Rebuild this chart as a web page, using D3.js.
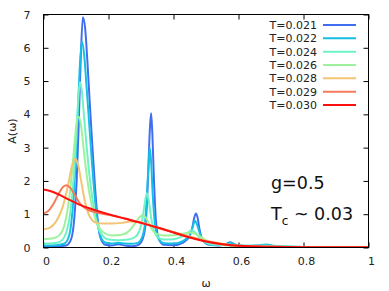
<!DOCTYPE html>
<html>
<head>
<meta charset="utf-8">
<script src="https://cdn.jsdelivr.net/npm/d3@7"></script>
<style>
  html, body { margin: 0; padding: 0; background: #fff; }
  svg { display: block; }
  text { font-family: "DejaVu Sans", Verdana, sans-serif; }
</style>
</head>
<body>
<svg id="chart" width="389" height="291"></svg>
<script>
// ---- Data ----
const xTicks = [0, 0.2, 0.4, 0.6, 0.8, 1];
const xTickLabels = ["0", "0.2", "0.4", "0.6", "0.8", "1"];
const yTicks = [0, 1, 2, 3, 4, 5, 6, 7];
const yTickLabels = ["0", "1", "2", "3", "4", "5", "6", "7"];
const seriesNames = ["T=0.021", "T=0.022", "T=0.024", "T=0.026", "T=0.028", "T=0.029", "T=0.030"];
const seriesColors = ["#3f6ff0", "#14bfe2", "#6ef2c6", "#9ef29c", "#f2c474", "#f77a58", "#ff1010"];

const w021 = [0, 0.04, 0.07, 0.085, 0.095, 0.102, 0.108, 0.114, 0.121, 0.128, 0.135, 0.142, 0.15, 0.158, 0.166, 0.175, 0.19, 0.21, 0.23, 0.25, 0.27, 0.29, 0.305, 0.315, 0.322, 0.327, 0.331, 0.335, 0.34, 0.346, 0.355, 0.37, 0.4, 0.43, 0.45, 0.458, 0.464, 0.469, 0.474, 0.48, 0.49, 0.51, 0.54, 0.56, 0.575, 0.59, 0.62, 0.66, 0.685, 0.71, 0.75, 0.85, 1.0];
const a021 = [0.02, 0.03, 0.06, 0.25, 0.9, 2.0, 3.6, 5.5, 6.92, 6.6, 5.6, 4.4, 3.1, 1.9, 0.9, 0.3, 0.08, 0.06, 0.1, 0.06, 0.04, 0.07, 0.25, 0.8, 2.2, 3.5, 4.03, 3.4, 2.0, 0.8, 0.25, 0.08, 0.07, 0.15, 0.35, 0.6, 0.9, 1.02, 0.9, 0.55, 0.22, 0.08, 0.06, 0.1, 0.16, 0.08, 0.04, 0.05, 0.07, 0.04, 0.02, 0.01, 0.01];

const w022 = [0, 0.04, 0.065, 0.08, 0.09, 0.098, 0.105, 0.111, 0.118, 0.125, 0.132, 0.14, 0.148, 0.156, 0.165, 0.175, 0.19, 0.21, 0.23, 0.25, 0.27, 0.29, 0.305, 0.314, 0.32, 0.324, 0.327, 0.331, 0.336, 0.343, 0.352, 0.37, 0.4, 0.43, 0.45, 0.458, 0.466, 0.472, 0.48, 0.49, 0.51, 0.54, 0.56, 0.575, 0.59, 0.62, 0.66, 0.685, 0.71, 0.75, 0.85, 1.0];
const a022 = [0.06, 0.07, 0.12, 0.4, 1.2, 2.4, 3.9, 5.3, 6.19, 5.8, 4.9, 3.8, 2.7, 1.7, 0.85, 0.35, 0.15, 0.12, 0.14, 0.12, 0.11, 0.14, 0.35, 0.9, 1.9, 2.6, 3.0, 2.6, 1.6, 0.7, 0.3, 0.13, 0.12, 0.2, 0.38, 0.58, 0.8, 0.7, 0.45, 0.22, 0.1, 0.07, 0.09, 0.14, 0.08, 0.05, 0.06, 0.09, 0.05, 0.02, 0.01, 0.01];

const w024 = [0, 0.03, 0.05, 0.07, 0.083, 0.093, 0.1, 0.106, 0.112, 0.118, 0.125, 0.133, 0.141, 0.15, 0.16, 0.17, 0.185, 0.2, 0.23, 0.26, 0.28, 0.295, 0.305, 0.312, 0.318, 0.324, 0.332, 0.342, 0.355, 0.37, 0.39, 0.41, 0.43, 0.445, 0.457, 0.467, 0.48, 0.5, 0.53, 0.57, 0.62, 0.68, 0.75, 0.85, 1.0];
const a024 = [0.12, 0.13, 0.17, 0.45, 1.1, 2.1, 3.2, 4.3, 4.97, 4.7, 3.9, 3.0, 2.2, 1.5, 0.9, 0.55, 0.32, 0.24, 0.22, 0.24, 0.3, 0.5, 0.9, 1.35, 1.63, 1.4, 0.85, 0.45, 0.28, 0.24, 0.24, 0.27, 0.35, 0.45, 0.52, 0.45, 0.3, 0.15, 0.08, 0.07, 0.05, 0.05, 0.03, 0.01, 0.01];

const w026 = [0, 0.03, 0.05, 0.065, 0.078, 0.088, 0.096, 0.102, 0.108, 0.115, 0.122, 0.13, 0.14, 0.15, 0.16, 0.175, 0.19, 0.21, 0.24, 0.26, 0.28, 0.295, 0.305, 0.315, 0.33, 0.35, 0.37, 0.4, 0.43, 0.45, 0.47, 0.5, 0.55, 0.6, 0.7, 0.8, 1.0];
const a026 = [0.25, 0.28, 0.38, 0.7, 1.4, 2.3, 3.2, 3.75, 3.93, 3.7, 3.1, 2.4, 1.7, 1.2, 0.85, 0.55, 0.42, 0.36, 0.38, 0.47, 0.7, 0.9, 0.97, 0.9, 0.6, 0.4, 0.36, 0.37, 0.42, 0.45, 0.4, 0.22, 0.08, 0.04, 0.02, 0.01, 0.01];

const w028 = [0, 0.02, 0.04, 0.06, 0.075, 0.088, 0.097, 0.106, 0.115, 0.125, 0.135, 0.15, 0.165, 0.185, 0.21, 0.24, 0.27, 0.3, 0.33, 0.36, 0.4, 0.45, 0.5, 0.55, 0.6, 0.7, 0.8, 1.0];
const a028 = [0.55, 0.6, 0.8, 1.25, 1.85, 2.45, 2.67, 2.5, 2.05, 1.5, 1.1, 0.82, 0.74, 0.72, 0.72, 0.74, 0.78, 0.76, 0.66, 0.57, 0.46, 0.33, 0.2, 0.11, 0.05, 0.02, 0.01, 0.01];

const w029 = [0, 0.015, 0.03, 0.045, 0.058, 0.07, 0.082, 0.095, 0.11, 0.125, 0.14, 0.16, 0.2, 0.25, 0.3, 0.35, 0.4, 0.45, 0.5, 0.55, 0.6, 0.7, 0.8, 1.0];
const a029 = [1.02, 1.1, 1.3, 1.58, 1.8, 1.87, 1.8, 1.6, 1.35, 1.2, 1.12, 1.06, 0.98, 0.87, 0.74, 0.6, 0.46, 0.31, 0.19, 0.1, 0.05, 0.02, 0.01, 0.01];

const w030 = [0, 0.02, 0.05, 0.08, 0.11, 0.15, 0.2, 0.25, 0.3, 0.35, 0.4, 0.45, 0.5, 0.55, 0.6, 0.7, 0.8, 1.0];
const a030 = [1.74, 1.7, 1.58, 1.43, 1.29, 1.15, 1.0, 0.87, 0.74, 0.6, 0.45, 0.3, 0.18, 0.1, 0.05, 0.02, 0.01, 0.01];

const omegas = [w021, w022, w024, w026, w028, w029, w030];
const values = [a021, a022, a024, a026, a028, a029, a030];

// ---- Layout ----
const svg = d3.select("#chart");
const L = 43.5, R = 368.5, T = 14.5, B = 247.5;
const x = d3.scaleLinear().domain([0, 1]).range([L, R]);
const y = d3.scaleLinear().domain([0, 7]).range([B, T]);

svg.append("clipPath").attr("id", "clip")
  .append("rect").attr("x", L).attr("y", T).attr("width", R - L).attr("height", B - T);

// ticks (inward on all four sides)
const tickLen = 5;
const axB = svg.append("g").attr("transform", `translate(0,${B})`)
  .call(d3.axisBottom(x).tickValues(xTicks).tickSize(-tickLen).tickPadding(10)
    .tickFormat((d, i) => xTickLabels[i]));
const axT = svg.append("g").attr("transform", `translate(0,${T})`)
  .call(d3.axisTop(x).tickValues(xTicks).tickSize(-tickLen).tickFormat(""));
const axL = svg.append("g").attr("transform", `translate(${L},0)`)
  .call(d3.axisLeft(y).tickValues(yTicks).tickSize(-tickLen).tickPadding(13)
    .tickFormat((d, i) => yTickLabels[i]));
const axR = svg.append("g").attr("transform", `translate(${R},0)`)
  .call(d3.axisRight(y).tickValues(yTicks).tickSize(-tickLen).tickFormat(""));
[axB, axT, axL, axR].forEach(g => {
  g.select(".domain").remove();
  g.selectAll(".tick line").attr("stroke", "#000").attr("stroke-width", 1);
  g.selectAll("text").attr("font-family", "DejaVu Sans").attr("font-size", 11).attr("fill", "#222");
});
axB.selectAll("text").attr("dx", 2.5);

// curves
const line = d3.line()
  .x(d => x(d[0])).y(d => y(d[1]))
  .curve(d3.curveMonotoneX);
const gLines = svg.append("g").attr("clip-path", "url(#clip)");
seriesNames.forEach((name, i) => {
  const pts = omegas[i].map((w, j) => [w, values[i][j]]);
  gLines.append("path")
    .attr("d", line(pts))
    .attr("fill", "none")
    .attr("stroke", seriesColors[i])
    .attr("stroke-width", 2)
    .attr("stroke-linejoin", "round");
});

// frame
svg.append("rect").attr("x", L).attr("y", T).attr("width", R - L).attr("height", B - T)
  .attr("fill", "none").attr("stroke", "#000").attr("stroke-width", 1);

// axis titles
svg.append("text").attr("x", (L + R) / 2).attr("y", 287).attr("text-anchor", "middle")
  .attr("font-size", 11).attr("fill", "#222").text("ω");
svg.append("text").attr("transform", `translate(16,${(T + B) / 2}) rotate(-90)`)
  .attr("text-anchor", "middle").attr("font-size", 11).attr("fill", "#222").text("A(ω)");

// legend
const legend = svg.append("g");
seriesNames.forEach((name, i) => {
  const ly = 25 + i * 13.33;
  legend.append("text").attr("x", 317).attr("y", ly).attr("dy", "0.36em")
    .attr("text-anchor", "end").attr("font-size", 11).attr("fill", "#222").text(name);
  legend.append("line").attr("x1", 323).attr("x2", 356).attr("y1", ly).attr("y2", ly)
    .attr("stroke", seriesColors[i]).attr("stroke-width", 2);
});

// annotations
svg.append("text").attr("x", 271).attr("y", 189).attr("font-size", 17.5).attr("fill", "#111").text("g=0.5");
const tc = svg.append("text").attr("x", 271).attr("y", 219.5).attr("font-size", 17.5).attr("fill", "#111");
tc.append("tspan").text("T");
tc.append("tspan").attr("font-size", 12).attr("dy", 5).text("c");
tc.append("tspan").attr("dy", -5).text(" ~ 0.03");
</script>
</body>
</html>
